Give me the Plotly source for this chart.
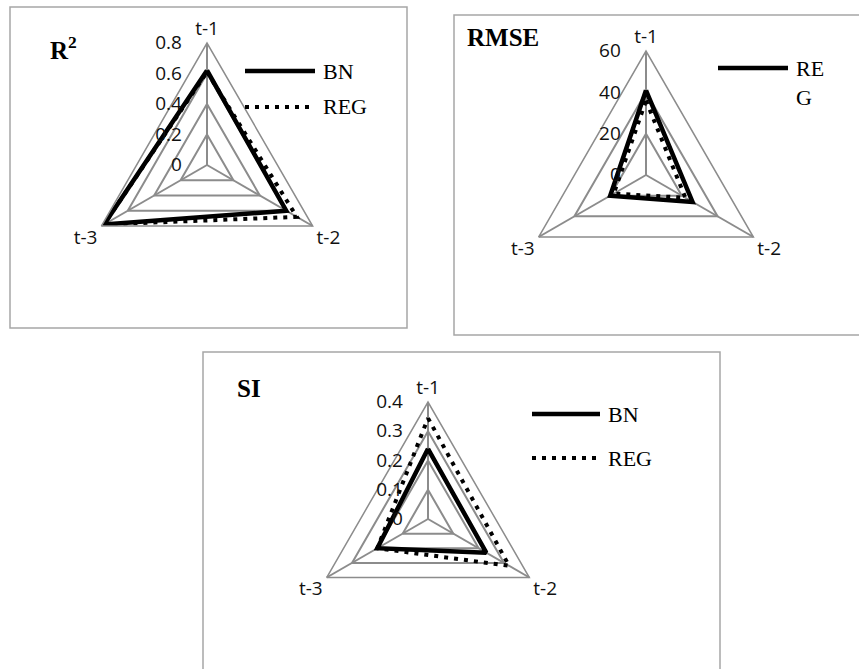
import plotly.graph_objects as go

W, H = 859, 669

lags = ["t-1", "t-2", "t-3"]

r2_bn = [0.62, 0.60, 0.78]
r2_reg = [0.61, 0.68, 0.78]
rmse_bn = [41, 26, 20]
rmse_reg = [36, 22, 18]
si_bn = [0.24, 0.23, 0.20]
si_reg = [0.345, 0.32, 0.20]

r2_ticks = [0, 0.2, 0.4, 0.6, 0.8]
rmse_ticks = [0, 20, 40, 60]
si_ticks = [0, 0.1, 0.2, 0.3, 0.4]

GRID = "#8c8c8c"
BOX = "#a6a6a6"
SANS = "Open Sans"
SERIF = "Liberation Serif"

# panel geometry in pixels: centre, radius, frame, title, legend
panels = [
    dict(name="polar", bn=r2_bn, reg=r2_reg, ticks=r2_ticks, c=(207, 165), R=122,
         box=(10, 7, 407, 328), title="R<sup>2</sup>", title_xy=(48, 48),
         legend=[("BN", "solid", 71), ("REG", "dot", 107)], leg_x=(245, 315)),
    dict(name="polar2", bn=rmse_bn, reg=rmse_reg, ticks=rmse_ticks, c=(646, 175), R=124,
         box=(454, 15, 865, 335), title="RMSE", title_xy=(465, 37),
         legend=[("RE<br>G", "solid", 68)], leg_x=(718, 788)),
    dict(name="polar3", bn=si_bn, reg=si_reg, ticks=si_ticks, c=(428, 519), R=117,
         box=(203, 352, 720, 675), title="SI", title_xy=(235, 388),
         legend=[("BN", "solid", 414), ("REG", "dot", 458)], leg_x=(532, 600)),
]


def px(x):
    return x / W


def py(y):
    return 1 - y / H


fig = go.Figure()
layout = {}
shapes = []
annotations = []

for p in panels:
    # close the polygon
    for vals, dash, width in [(p["reg"], "4px,6px", 4), (p["bn"], "solid", 4.5)]:
        fig.add_trace(go.Scatterpolar(
            r=vals + vals[:1], theta=lags + lags[:1], mode="lines",
            line=dict(color="black", width=width, dash=dash),
            subplot=p["name"], showlegend=False, hoverinfo="skip",
        ))

    cx, cy = p["c"]
    R = p["R"]
    layout[p["name"]] = dict(
        domain=dict(x=[px(cx - R), px(cx + R)], y=[py(cy + R), py(cy - R)]),
        gridshape="linear",
        bgcolor="white",
        angularaxis=dict(
            direction="clockwise", rotation=90,
            categoryorder="array", categoryarray=lags,
            gridcolor=GRID, gridwidth=1.5, linecolor=GRID, linewidth=1.5,
            tickfont=dict(family=SANS, size=19, color="#111"),
        ),
        radialaxis=dict(
            range=[0, p["ticks"][-1]], tickvals=p["ticks"],
            ticktext=[f"{t:g}" for t in p["ticks"]],
            angle=90, side="counterclockwise", tickangle=90,
            gridcolor=GRID, gridwidth=1.5, showline=False,
            ticks="outside", ticklen=18, tickcolor="rgba(0,0,0,0)",
            tickfont=dict(family=SANS, size=19, color="#111"),
        ),
    )

    x0, y0, x1, y1 = p["box"]
    shapes.append(dict(type="rect", xref="paper", yref="paper",
                       x0=px(x0), x1=px(x1), y0=py(y1), y1=py(y0),
                       line=dict(color=BOX, width=1.5)))

    tx, ty = p["title_xy"]
    annotations.append(dict(text=f"<b>{p['title']}</b>", xref="paper", yref="paper",
                            x=px(tx), y=py(ty), xanchor="left", yanchor="middle",
                            showarrow=False, font=dict(family=SERIF, size=25, color="black")))

    lx0, lx1 = p["leg_x"]
    for label, style, ly in p["legend"]:
        shapes.append(dict(type="line", xref="paper", yref="paper",
                           x0=px(lx0), x1=px(lx1), y0=py(ly), y1=py(ly),
                           line=dict(color="black", width=4.5 if style == "solid" else 4,
                                     dash="solid" if style == "solid" else "4px,6px")))
        annotations.append(dict(text=label, xref="paper", yref="paper",
                                x=px(lx1 + 6), y=py(ly), xanchor="left",
                                yanchor="top" if "<br>" in label else "middle",
                                yshift=14 if "<br>" in label else 0,
                                align="left", showarrow=False,
                                font=dict(family=SERIF, size=22, color="black")))

fig.update_layout(
    width=W, height=H,
    margin=dict(l=0, r=0, t=0, b=0),
    paper_bgcolor="white",
    shapes=shapes,
    annotations=annotations,
    **layout,
)

fig.write_html("out.html", config={"displayModeBar": False},
               post_script="document.body.style.margin='0';")
